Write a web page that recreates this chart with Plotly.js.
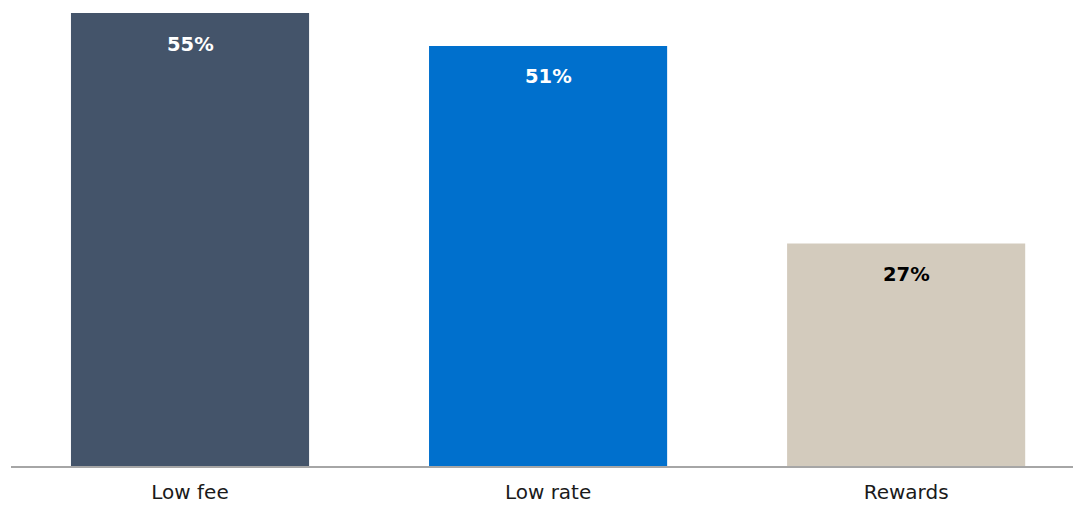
<!DOCTYPE html>
<html>
<head>
<meta charset="utf-8">
<script src="https://cdn.plot.ly/plotly-3.0.1.min.js"></script>
<style>html,body{margin:0;padding:0;background:#fff;}#chart{width:1073px;height:506px;}</style>
</head>
<body>
<div id="chart"></div>
<script>
const categories = ["Low fee", "Low rate", "Rewards"];
const values = [55, 51, 27];
const valueLabels = ["55%", "51%", "27%"];
const barColors = ["#44546a", "#0070cd", "#d3cbbd"];
const labelColors = ["#ffffff", "#ffffff", "#000000"];

const trace = {
  type: "bar",
  x: categories,
  y: values,
  marker: {color: barColors},
  hoverinfo: "none"
};

const annotations = categories.map((c, i) => ({
  x: c, y: values[i], xref: "x", yref: "y",
  text: "<b>" + valueLabels[i] + "</b>",
  showarrow: false, yanchor: "middle", yshift: -31,
  font: {family: "'DejaVu Sans', sans-serif", size: 19.5, color: labelColors[i]}
}));

const layout = {
  width: 1073, height: 506,
  margin: {l: 11, r: 0, t: 0, b: 40},
  paper_bgcolor: "#ffffff", plot_bgcolor: "#ffffff",
  bargap: 0.335,
  showlegend: false,
  font: {family: "'DejaVu Sans', sans-serif", size: 20, color: "#1a1a1a"},
  xaxis: {
    range: [-0.5, 2.466], showgrid: false, zeroline: false,
    showline: true, linecolor: "#a6a6a6", linewidth: 2,
    ticks: "outside", ticklen: 7, tickcolor: "rgba(0,0,0,0)",
    tickfont: {size: 20, color: "#1a1a1a"}
  },
  yaxis: {
    range: [0, 56.58], visible: false, showgrid: false, zeroline: false
  },
  annotations: annotations
};

Plotly.newPlot("chart", [trace], layout, {displayModeBar: false, staticPlot: true});
</script>
</body>
</html>
